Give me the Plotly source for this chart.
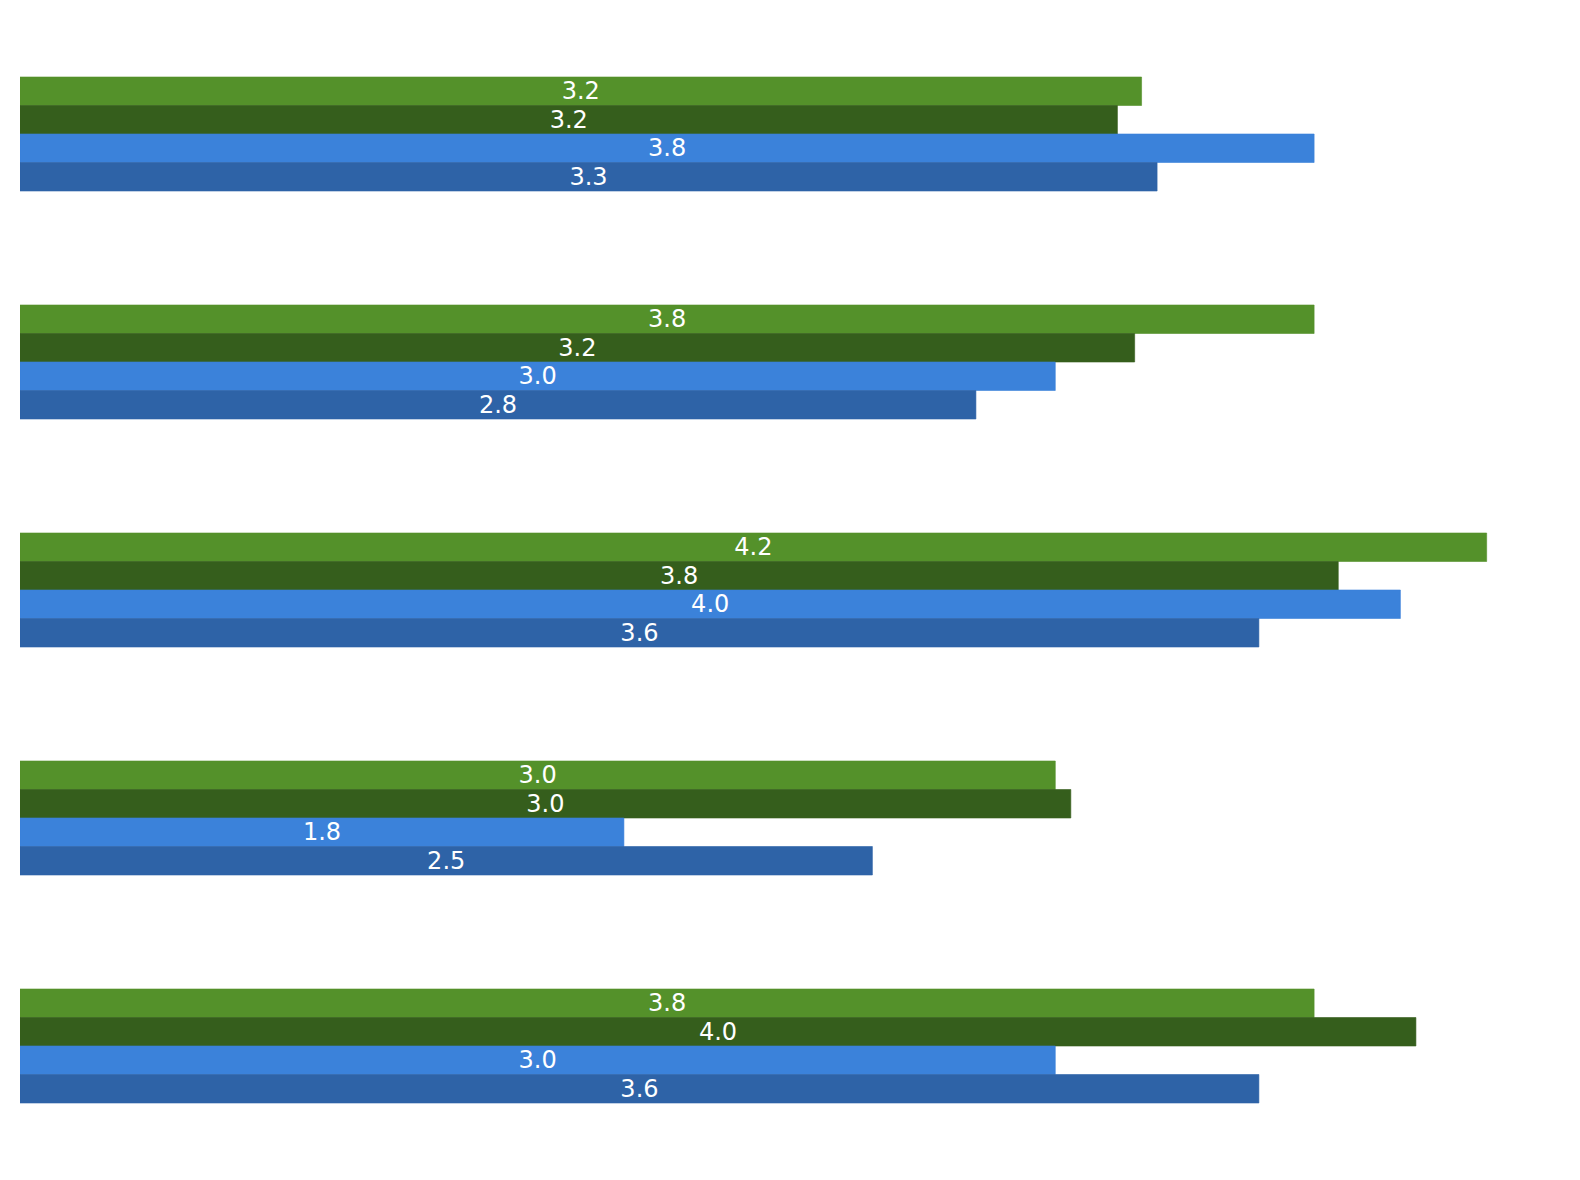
import plotly.graph_objects as go

categories = ["Category 1", "Category 2", "Category 3", "Category 4", "Category 5"]
series_names = ["Series A", "Series B", "Series C", "Series D"]
green = [3.25, 3.75, 4.25, 3.00, 3.75]
dark_green = [3.18, 3.23, 3.82, 3.045, 4.045]
blue = [3.75, 3.00, 4.00, 1.75, 3.00]
dark_blue = [3.295, 2.77, 3.59, 2.47, 3.59]

colors = ["#54912A", "#355E1C", "#3B82DA", "#2E63A7"]
series_values = [green, dark_green, blue, dark_blue]

fig = go.Figure()
for name, vals, col in zip(series_names, series_values, colors):
    fig.add_trace(go.Bar(
        y=categories,
        x=vals,
        name=name,
        orientation="h",
        marker=dict(color=col, line=dict(width=0.6, color=col)),
        text=[f"{v:.1f}" for v in vals],
        textposition="inside",
        insidetextanchor="middle",
        constraintext="none",
        textfont=dict(color="white", size=24, family="DejaVu Sans"),
        hoverinfo="x+y+name",
    ))

fig.update_layout(
    width=1580,
    height=1180,
    margin=dict(l=20, r=20, t=20, b=20),
    barmode="group",
    bargap=0.5,
    bargroupgap=0,
    showlegend=False,
    plot_bgcolor="white",
    paper_bgcolor="white",
    font=dict(family="DejaVu Sans"),
    xaxis=dict(range=[0, 4.4625], showticklabels=False, showgrid=False,
               zeroline=False, showline=False, ticks=""),
    yaxis=dict(autorange="reversed", showticklabels=False, showgrid=False,
               zeroline=False, showline=False, ticks=""),
)

fig.write_html("out.html")
